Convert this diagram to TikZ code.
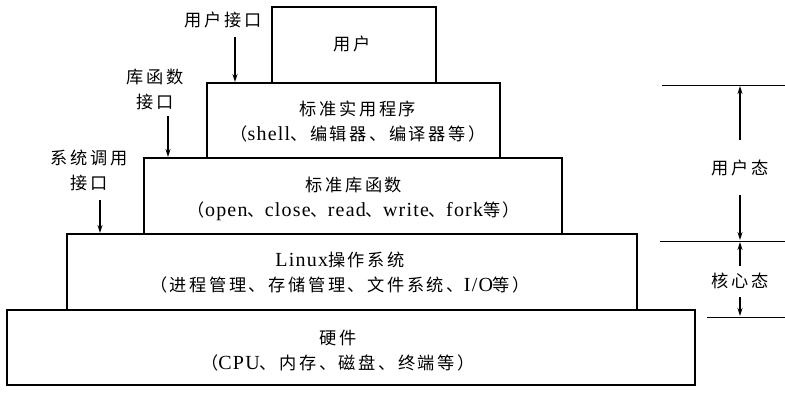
\documentclass[tikz,border=0pt]{standalone}
\usepackage{fontspec}
\setmainfont{Liberation Serif}[LetterSpace=6]
\newfontfamily\cjk{Noto Sans CJK SC}[Scale=0.86,LetterSpace=15]
\newcommand\zh[1]{{\cjk #1}}
\usetikzlibrary{arrows.meta}
\begin{document}
\begin{tikzpicture}[x=1pt,y=-1pt,
  layer/.style={draw,line width=1.3pt,anchor=north west,inner sep=0pt,outer sep=0pt},
  txt/.style={font=\fontsize{20}{25}\selectfont,align=center,inner sep=0pt},
  arr/.style={line width=1.2pt,-{Stealth[length=8pt,width=5pt]}},
  rule/.style={line width=0.9pt}]
\useasboundingbox (0,0) rectangle (785,392);
% layers
\node[layer,minimum width=164pt,minimum height=76pt] (b1) at (272,7) {};
\node[layer,minimum width=293pt,minimum height=75pt] (b2) at (207,83) {};
\node[layer,minimum width=418pt,minimum height=76pt] (b3) at (144,158) {};
\node[layer,minimum width=570pt,minimum height=76pt] (b4) at (67,234) {};
\node[layer,minimum width=688pt,minimum height=75pt] (b5) at (7,310) {};
% texts
\node[txt] (t1) at (352,44) {\zh{用户}};
\node[txt] (t2) at (358,122) {\zh{标准实用程序}\\\zh{（}shell\zh{、编辑器、编译器等）}};
\node[txt] (t3) at (354,199) {\zh{标准库函数}\\\zh{（}open\zh{、}close\zh{、}read\zh{、}write\zh{、}fork\zh{等）}};
\node[txt] (t4) at (340,273) {Linux\zh{操作系统}\\\zh{（进程管理、存储管理、文件系统、}I/O\zh{等）}};
\node[txt] (t5) at (338,351) {\zh{硬件}\\\zh{（}CPU\zh{、内存、磁盘、终端等）}};
% interface labels
\node[txt] (l1) at (223,20) {\zh{用户接口}};
\node[txt] (l2) at (155,89) {\zh{库函数}\\\zh{接口}};
\node[txt] (l3) at (89,170) {\zh{系统调用}\\\zh{接口}};
\coordinate (a1s) at (235,37);
\coordinate (a1e) at (235,82);
\coordinate (a2s) at (168,116);
\coordinate (a2e) at (168,157);
\coordinate (a3s) at (100,200);
\coordinate (a3e) at (100,233);
\draw[arr] (a1s) -- (a1e);
\draw[arr] (a2s) -- (a2e);
\draw[arr] (a3s) -- (a3e);
% right scale
\coordinate (r1a) at (662,85); \coordinate (r1b) at (785,85);
\coordinate (r2a) at (660,241); \coordinate (r2b) at (785,241);
\coordinate (r3a) at (707,317); \coordinate (r3b) at (785,317);
\draw[rule] (r1a) -- (r1b);
\draw[rule] (r2a) -- (r2b);
\draw[rule] (r3a) -- (r3b);
\node[txt] (u) at (740,168) {\zh{用户态}};
\node[txt] (k) at (740,281) {\zh{核心态}};
\coordinate (u1) at (740,140); \coordinate (u1e) at (740,86);
\coordinate (u2) at (740,195); \coordinate (u2e) at (740,240);
\coordinate (k1) at (740,266); \coordinate (k1e) at (740,242);
\coordinate (k2) at (740,297); \coordinate (k2e) at (740,316);
\draw[arr] (u1) -- (u1e);
\draw[arr] (u2) -- (u2e);
\draw[arr] (k1) -- (k1e);
\draw[arr] (k2) -- (k2e);
\end{tikzpicture}
\end{document}
